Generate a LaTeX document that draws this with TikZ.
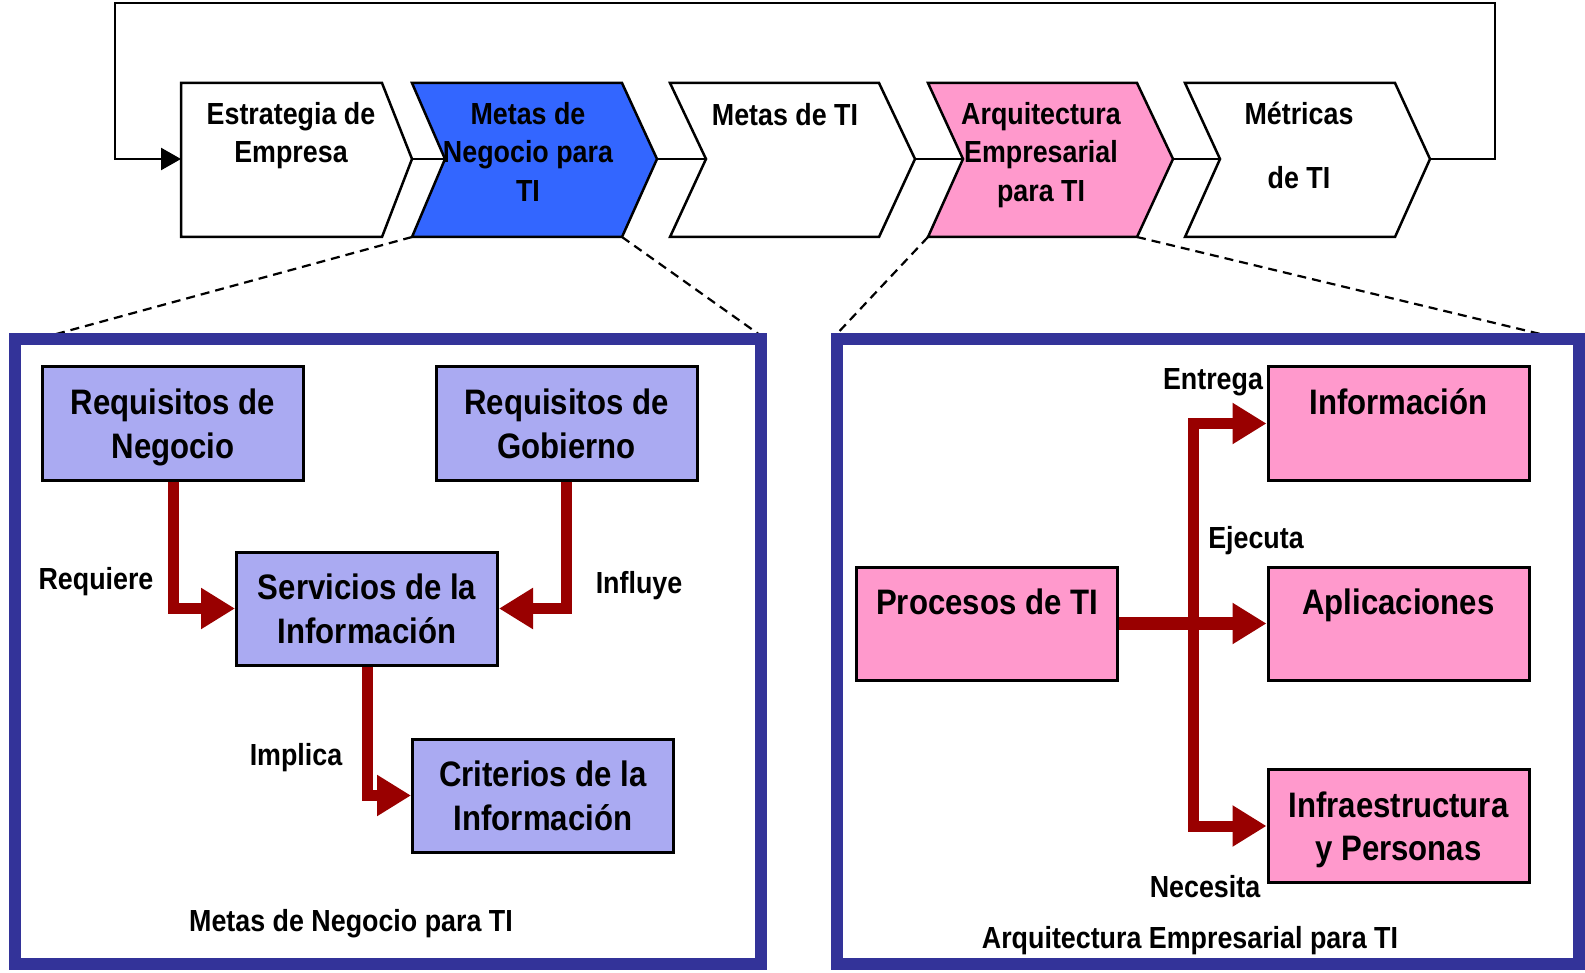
\documentclass[tikz,border=0pt]{standalone}
\usepackage{fontspec}
\setmainfont{Liberation Sans}[FakeStretch=0.88]
\usetikzlibrary{arrows.meta}
\definecolor{chevblue}{HTML}{3366FF}
\definecolor{chevpink}{HTML}{FF99CC}
\definecolor{boxlav}{HTML}{AAAAF2}
\definecolor{boxpink}{HTML}{FF99CC}
\definecolor{darkred}{HTML}{990000}
\definecolor{frameblue}{HTML}{333399}
\begin{document}
\begin{tikzpicture}[x=1pt,y=-1pt,
  chev/.style={draw=black, line width=2.5pt, line join=miter},
  chevtxt/.style={font=\fontsize{30.5}{38.5}\selectfont\bfseries, align=center, anchor=base, inner sep=0pt},
  lavbox/.style={draw=black, line width=3pt, fill=boxlav, minimum width=261pt, minimum height=113pt, inner sep=0pt, text depth=0pt, font=\fontsize{35.4}{43.5}\selectfont\bfseries, align=center},
  pinkbox/.style={lavbox, fill=boxpink},
  lbl/.style={font=\fontsize{30.5}{36}\selectfont\bfseries, anchor=base, inner sep=0pt},
  flow/.style={draw=darkred, line width=11pt, line join=miter, -{Triangle[length=34pt,width=39pt]}},
  panel/.style={draw=frameblue, line width=12pt},
  link/.style={draw=black, line width=2.5pt},
  zoomline/.style={draw=black, line width=2.2pt, dash pattern=on 9pt off 6pt},
]
\useasboundingbox (0,0) rectangle (1585,973);

% ---------- chevron key points ----------
\coordinate (c1NW) at (181,83);  \coordinate (c1NE) at (382,83);  \coordinate (c1tip) at (412,159);
\coordinate (c1SE) at (382,237); \coordinate (c1SW) at (181,237); \coordinate (c1w) at (181,159);
\coordinate (c2NW) at (412,83);  \coordinate (c2NE) at (622,83);  \coordinate (c2tip) at (657,159);
\coordinate (c2SE) at (622,237); \coordinate (c2SW) at (412,237); \coordinate (c2notch) at (445,159);
\coordinate (c3NW) at (670,83);  \coordinate (c3NE) at (879,83);  \coordinate (c3tip) at (915,159);
\coordinate (c3SE) at (879,237); \coordinate (c3SW) at (670,237); \coordinate (c3notch) at (706,159);
\coordinate (c4NW) at (928,83);  \coordinate (c4NE) at (1137,83); \coordinate (c4tip) at (1173,159);
\coordinate (c4SE) at (1137,237);\coordinate (c4SW) at (928,237); \coordinate (c4notch) at (963,159);
\coordinate (c5NW) at (1185,83); \coordinate (c5NE) at (1395,83); \coordinate (c5tip) at (1430,159);
\coordinate (c5SE) at (1395,237);\coordinate (c5SW) at (1185,237);\coordinate (c5notch) at (1220,159);

% panels corners and zoom-line ends
\coordinate (lpNW) at (15,339);  \coordinate (lpSE) at (761,964);
\coordinate (rpNW) at (837,339); \coordinate (rpSE) at (1579,964);
\coordinate (lpL) at (38,339);   \coordinate (lpR) at (767,340);
\coordinate (rpL) at (833,338);  \coordinate (rpR) at (1557,338);

% ---------- zoom lines ----------
\draw[zoomline] (c2SW) -- (lpL);
\draw[zoomline] (c2SE) -- (lpR);
\draw[zoomline] (c4SW) -- (rpL);
\draw[zoomline] (c4SE) -- (rpR);

% ---------- chevrons ----------
\draw[chev, fill=white] (c1NW) -- (c1NE) -- (c1tip) -- (c1SE) -- (c1SW) -- cycle;
\draw[chev, fill=chevblue] (c2NW) -- (c2NE) -- (c2tip) -- (c2SE) -- (c2SW) -- (c2notch) -- cycle;
\draw[chev, fill=white] (c3NW) -- (c3NE) -- (c3tip) -- (c3SE) -- (c3SW) -- (c3notch) -- cycle;
\draw[chev, fill=chevpink] (c4NW) -- (c4NE) -- (c4tip) -- (c4SE) -- (c4SW) -- (c4notch) -- cycle;
\draw[chev, fill=white] (c5NW) -- (c5NE) -- (c5tip) -- (c5SE) -- (c5SW) -- (c5notch) -- cycle;

% connectors between chevrons
\draw[link] (c1tip) -- (c2notch);
\draw[link] (c2tip) -- (c3notch);
\draw[link] (c3tip) -- (c4notch);
\draw[link] (c4tip) -- (c5notch);
\draw[link, line join=miter, -{Triangle[length=20pt,width=22pt]}]
  (c5tip) -- (1495,159) -- (1495,3) -- (115,3) -- (115,159) -- (c1w);

% chevron texts (anchor = baseline of the last line)
\node[chevtxt] (t1) at (291,163) {Estrategia de\\Empresa};
\node[chevtxt] (t2) at (528,201.5) {Metas de\\Negocio para\\TI};
\node[chevtxt] (t3) at (785,126) {Metas de TI};
\node[chevtxt] (t4) at (1041,201.5) {Arquitectura\\Empresarial\\para TI};
\node[chevtxt] (t5) at (1299,189) {Métricas\\[26pt]de TI};

% ---------- panels ----------
\draw[panel] (lpNW) rectangle (lpSE);
\draw[panel] (rpNW) rectangle (rpSE);

% ---------- left panel ----------
\node[lavbox] (rn) at (173,423.5) {Requisitos de\\Negocio};
\node[lavbox] (rg) at (566.5,423.5) {Requisitos de\\Gobierno};
\node[lavbox] (serv) at (367,608.5) {Servicios de la\\Información};
\node[lavbox] (crit) at (543,795.5) {Criterios de la\\Información};

\draw[flow] (rn.south) |- (serv.west);
\draw[flow] (rg.south) |- (serv.east);
\draw[flow] (serv.south) |- (crit.west);

\node[lbl] (lreq) at (96,589) {Requiere};
\node[lbl] (linf) at (639,593) {Influye};
\node[lbl] (limp) at (296,765) {Implica};
\node[lbl] (lmn) at (351,931) {Metas de Negocio para TI};

% ---------- right panel ----------
\node[pinkbox] (proc) at (987,623.5) {Procesos de TI\\\phantom{I}};
\node[pinkbox] (info) at (1398.5,423.5) {Información\\\phantom{I}};
\node[pinkbox] (apl) at (1398.5,623.5) {Aplicaciones\\\phantom{I}};
\node[pinkbox] (infra) at (1398.5,826) {Infraestructura\\y Personas};

\coordinate (trunk) at (1193,623.5);
\draw[flow] (trunk) |- (info.west);
\draw[flow] (trunk) |- (infra.west);
\draw[flow, line width=13pt] (proc.east) -- (apl.west);

\node[lbl] (lent) at (1213,390) {Entrega};
\node[lbl] (leje) at (1256,548) {Ejecuta};
\node[lbl] (lnec) at (1205,897) {Necesita};
\node[lbl] (lae) at (1190,948) {Arquitectura Empresarial para TI};
\end{tikzpicture}
\end{document}
